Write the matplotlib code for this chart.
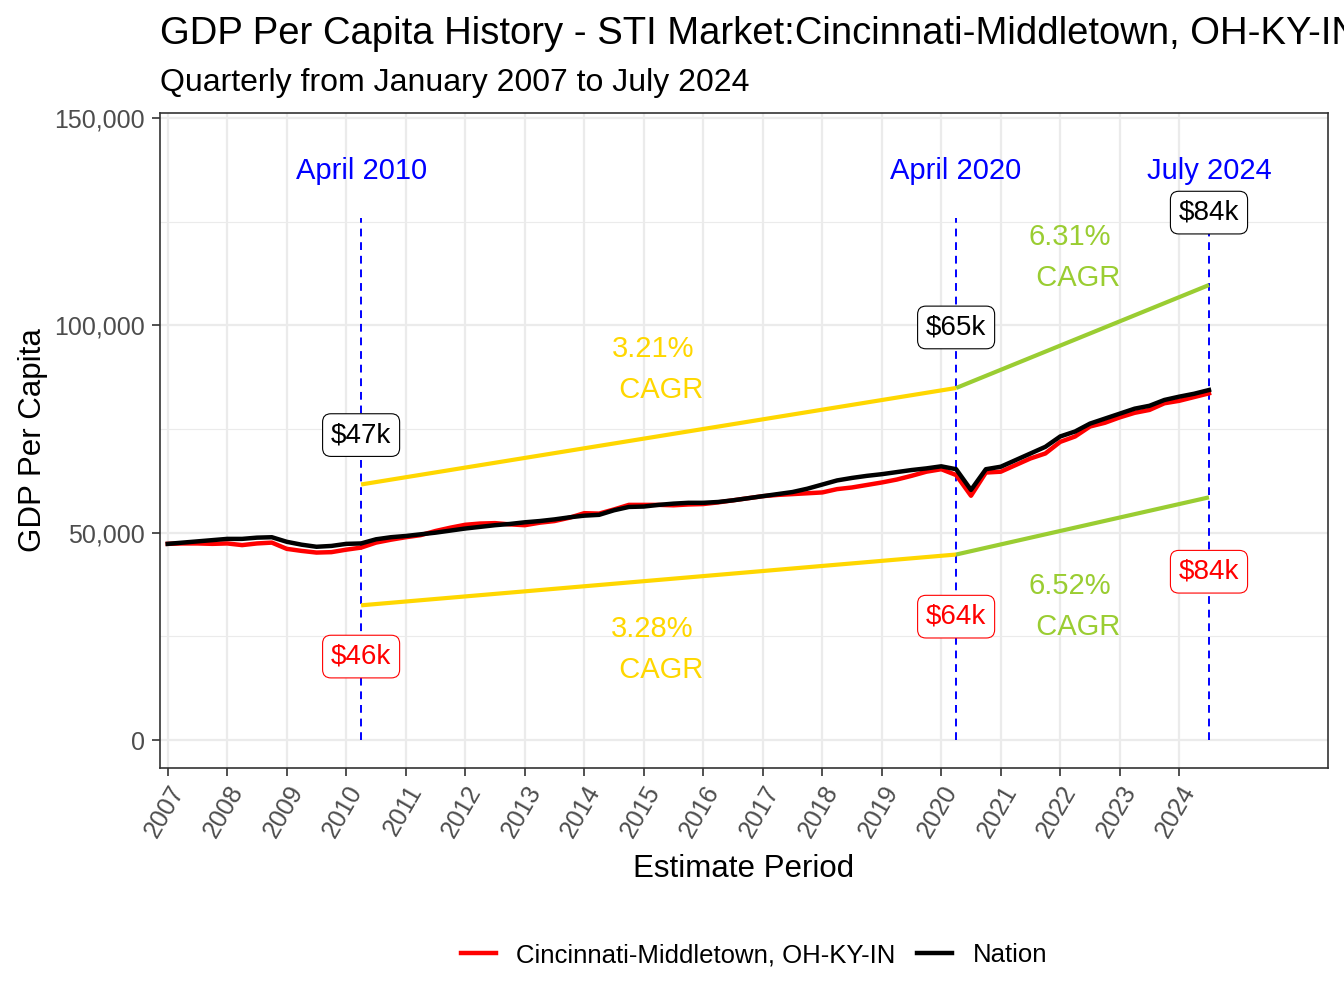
import numpy as np
import matplotlib
matplotlib.use("Agg")
import matplotlib.pyplot as plt
from matplotlib.ticker import FuncFormatter, MultipleLocator

plt.rcParams['font.family'] = ['Liberation Sans', 'DejaVu Sans']

# quarterly estimates, 2007 Q1 .. 2024 Q3 (thousands of dollars)
metro_k = [
    47.3, 47.4, 47.4, 47.3,
    47.4, 47.0, 47.4, 47.6,
    46.1, 45.6, 45.2, 45.3,
    45.9, 46.4, 47.6, 48.3,
    48.9, 49.4, 50.4, 51.2,
    51.9, 52.2, 52.3, 52.0,
    51.8, 52.4, 52.8, 53.6,
    54.7, 54.6, 55.6, 56.7,
    56.7, 56.7, 56.6, 56.8,
    56.9, 57.3, 57.8, 58.3,
    58.8, 59.1, 59.3, 59.5,
    59.7, 60.5, 60.9, 61.5,
    62.1, 62.8, 63.7, 64.7,
    65.3, 63.9, 58.9, 64.5,
    64.7, 66.3, 67.9, 69.1,
    71.9, 73.2, 75.6, 76.5,
    77.8, 78.9, 79.6, 81.2,
    81.8, 82.7, 83.6,
]
nation_k = [
    47.3, 47.6, 47.9, 48.2,
    48.5, 48.5, 48.8, 48.9,
    47.8, 47.1, 46.6, 46.8,
    47.3, 47.4, 48.4, 48.9,
    49.2, 49.6, 50.0, 50.5,
    51.0, 51.4, 51.8, 52.1,
    52.5, 52.8, 53.2, 53.7,
    54.1, 54.3, 55.4, 56.2,
    56.3, 56.7, 57.0, 57.2,
    57.2, 57.4, 57.8, 58.3,
    58.8, 59.3, 59.8, 60.6,
    61.6, 62.6, 63.2, 63.7,
    64.1, 64.6, 65.1, 65.5,
    66.0, 65.3, 60.3, 65.3,
    65.9, 67.5, 69.1, 70.7,
    73.2, 74.4, 76.3, 77.5,
    78.7, 79.9, 80.6, 82.0,
    82.8, 83.5, 84.4,
]
metro_name = "Cincinnati-Middletown, OH-KY-IN"
years = list(range(2007, 2025))

# marked periods (index into the quarterly series) and their labels
mark_idx = [13, 53, 70]
mark_names = ["April 2010", "April 2020", "July 2024"]
cagr_nation = ["3.21%", "6.31%"]
cagr_metro = ["3.28%", "6.52%"]

metro = np.array(metro_k) * 1000
nation = np.array(nation_k) * 1000
xq = 2007 + np.arange(len(metro)) / 4.0

fig = plt.figure(figsize=(13.44, 10.08), dpi=100)
ax = fig.add_axes([160 / 1344, 1 - 768 / 1008, 1168 / 1344, 655 / 1008])

# grid
ax.set_axisbelow(True)
ax.yaxis.set_minor_locator(MultipleLocator(25000))
ax.grid(which='major', color='#EBEBEB', linewidth=1.6)
ax.grid(which='minor', axis='y', color='#EBEBEB', linewidth=0.8)
ax.tick_params(which='minor', left=False)

ax.plot(xq, metro, color='red', lw=3.2, label=metro_name, zorder=3)
ax.plot(xq, nation, color='black', lw=3.2, label='Nation', zorder=4)

mx = xq[mark_idx]
top_n = nation[mark_idx] * 1.3
bot_m = metro[mark_idx] * 0.7
seg_col = ['#FFD700', '#9ACD32']
# text placement tweaks for the CAGR notes
txt_dx = [0.1, 0.21]
up_fac = [1.22, 1.195]
lo_fac = [0.567, 0.622]
for i in range(2):
    ax.plot(mx[i:i + 2], top_n[i:i + 2], color=seg_col[i], lw=3.0, zorder=3, solid_capstyle='butt')
    ax.plot(mx[i:i + 2], bot_m[i:i + 2], color=seg_col[i], lw=3.0, zorder=3, solid_capstyle='butt')
    xm = mx[i:i + 2].mean() - txt_dx[i]
    ax.text(xm, top_n[i:i + 2].mean() * up_fac[i], cagr_nation[i] + "\n  CAGR", color=seg_col[i],
            fontsize=21, ha='center', va='center', multialignment='center', linespacing=1.6)
    ax.text(xm, bot_m[i:i + 2].mean() * lo_fac[i], cagr_metro[i] + "\n  CAGR", color=seg_col[i],
            fontsize=21, ha='center', va='center', multialignment='center', linespacing=1.6)

box = 'round,pad=0.3,rounding_size=0.3'
for x, name, vn, vm in zip(mx, mark_names, nation[mark_idx], metro[mark_idx]):
    ax.plot([x, x], [0, 126000], color='blue', lw=1.4, ls=(0, (4, 3)), zorder=2)
    ax.text(x, 137300, name, color='blue', fontsize=21, ha='center', va='center')
    ax.text(x, vn * 1.45 + 4800, f"${vn / 1000:.0f}k", fontsize=20, ha='center', va='center',
            zorder=6, bbox=dict(boxstyle=box, fc='white', ec='black', lw=0.8))
    ax.text(x, vm * 0.55 - 5400, f"${vm / 1000:.0f}k", fontsize=20, ha='center', va='center',
            color='red', zorder=6, bbox=dict(boxstyle=box, fc='white', ec='red', lw=0.8))

ax.set_xlim(2006.87, 2026.5)
ax.set_ylim(-6750, 151200)
ax.set_xticks(years)
ax.set_xticklabels([str(y) for y in years], rotation=60, ha='right', va='top', rotation_mode='anchor')
ax.set_yticks([0, 50000, 100000, 150000])
ax.yaxis.set_major_formatter(FuncFormatter(lambda v, p: f"{v:,.0f}"))
ax.tick_params(which='major', labelsize=18, labelcolor='#4D4D4D', color='#333333', length=6, width=1.2)
ax.tick_params(axis='y', pad=5)
for s in ax.spines.values():
    s.set_color('#333333')
    s.set_linewidth(1.2)

ax.set_xlabel("Estimate Period", fontsize=22.5, labelpad=9)
ax.set_ylabel("GDP Per Capita", fontsize=22.5, labelpad=4)

fig.text(160 / 1344, 1 - 34 / 1008, "GDP Per Capita History - STI Market:" + metro_name,
         fontsize=27.5, ha='left', va='center')
fig.text(160 / 1344, 1 - 83 / 1008, "Quarterly from January 2007 to July 2024",
         fontsize=23, ha='left', va='center')

fig.legend(loc='center', bbox_to_anchor=(754 / 1344, 1 - 955 / 1008), ncol=2, frameon=False,
           fontsize=18.5, handlelength=1.35, columnspacing=0.85, handletextpad=0.8)

fig.savefig("out.png", dpi=100)
